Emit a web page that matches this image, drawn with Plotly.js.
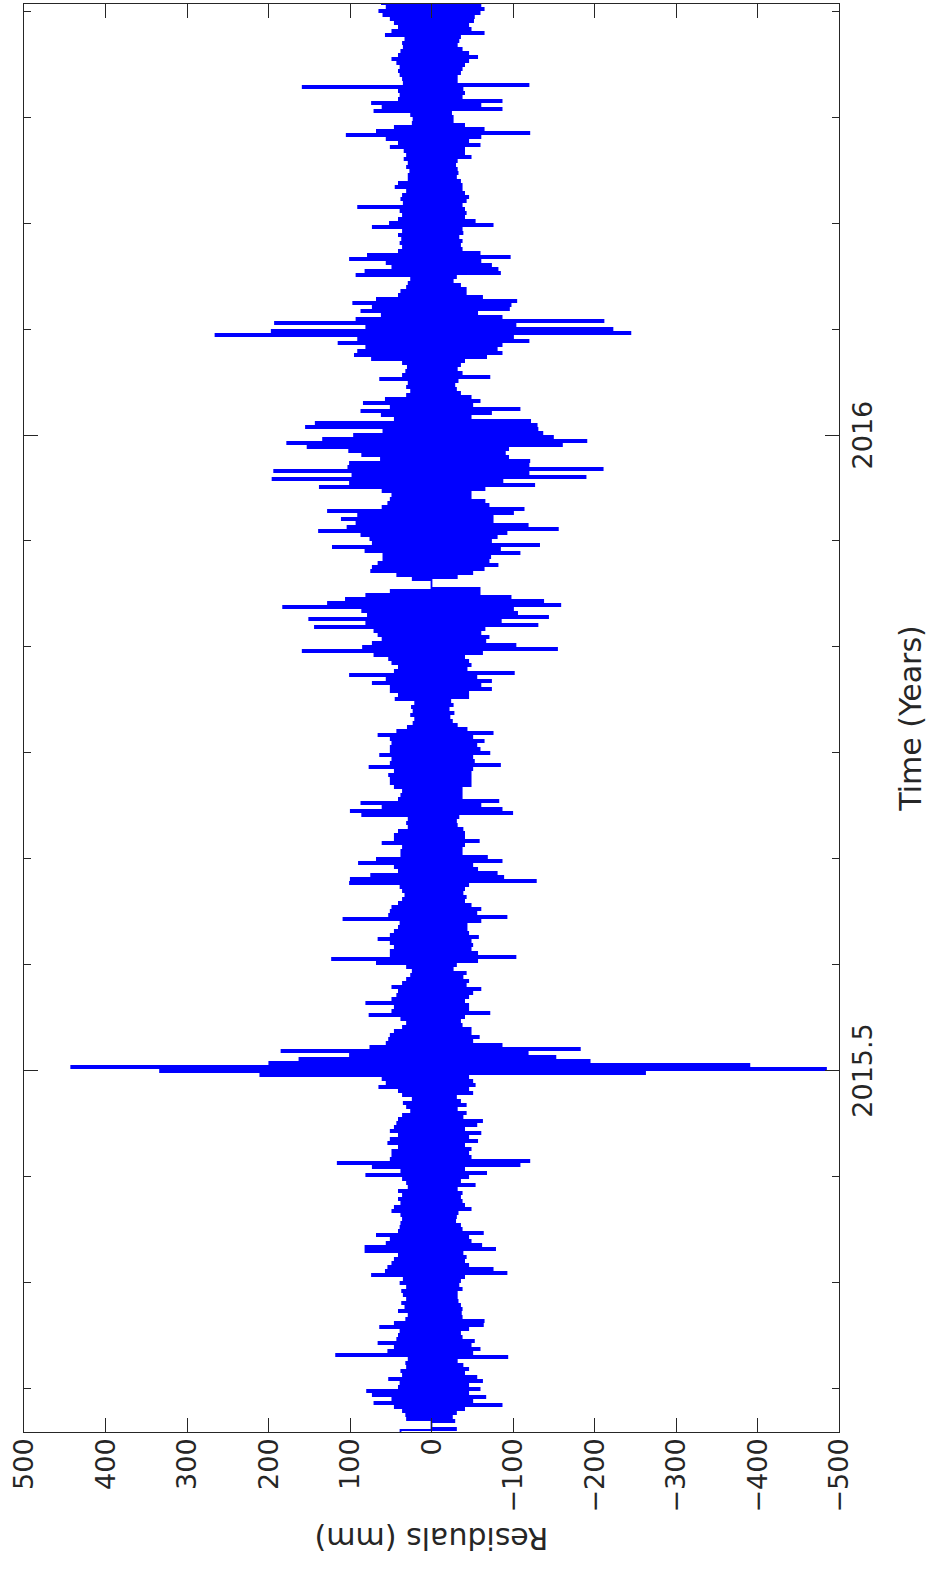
<!DOCTYPE html>
<html>
<head>
<meta charset="utf-8">
<script src="https://cdn.plot.ly/plotly-3.0.1.min.js"></script>
<style>
html,body{margin:0;padding:0;width:930px;height:1569px;overflow:hidden;background:#fff}
#wrap{position:absolute;left:0;top:0;width:1569px;height:930px;transform-origin:0 0;transform:translateY(1569px) rotate(-90deg);}
</style>
</head>
<body>
<div id="wrap"><div id="chart"></div></div>
<script>
// Residual samples (mm), in time order
const residuals = [
38,-30,0,0,0,-28,30,-25,31,-30,
35,-40,45,-86,70,-50,48,-66,72,-45,
79,-59,40,-45,38,-62,52,-55,35,-40,
37,-45,30,-38,31,-31,28,-93,117,-50,
53,-59,45,-48,65,-52,42,-37,40,-35,
38,-45,63,-63,45,-64,31,-37,28,-36,
40,-37,32,-35,36,-32,30,-31,34,-31,
36,-37,30,-33,38,-35,34,-40,73,-92,
56,-75,53,-45,48,-40,45,-42,40,-38,
81,-78,81,-61,55,-48,50,-45,67,-63,
40,-37,38,-35,37,-29,35,-30,37,-32,
48,-48,45,-40,37,-37,40,-35,35,-37,
40,-31,28,-53,30,-35,35,-45,80,-67,
37,-40,72,-108,115,-120,50,-48,48,-45,
48,-48,40,-40,53,-56,50,-45,40,-60,
50,-40,45,-55,42,-62,40,-38,35,-42,
25,-31,30,-42,34,-35,23,-30,35,-50,
40,-45,64,-53,55,-50,60,-45,210,-262,
333,-484,442,-390,199,-194,162,-152,100,-118,
184,-182,75,-86,55,-50,52,-58,50,-48,
45,-48,35,-37,30,-35,37,-40,76,-71,
48,-45,45,-45,80,-40,48,-45,42,-50,
40,-60,48,-42,35,-45,30,-38,25,-42,
23,-26,30,-30,67,-56,122,-103,50,-56,
50,-48,45,-50,50,-48,65,-57,50,-45,
45,-43,40,-43,38,-60,108,-92,52,-55,
50,-60,48,-48,40,-40,35,-42,32,-38,
35,-40,38,-45,100,-128,99,-88,74,-80,
40,-56,45,-50,89,-86,67,-68,37,-37,
37,-37,35,-40,60,-58,45,-40,45,-40,
40,-38,28,-31,30,-30,28,-33,85,-99,
99,-86,60,-60,86,-82,40,-37,37,-37,
35,-37,45,-48,50,-48,50,-48,52,-48,
45,-50,76,-84,50,-52,48,-50,63,-71,
50,-59,50,-55,48,-64,50,-50,65,-75,
42,-43,29,-31,22,-25,20,-22,25,-27,
22,-21,24,-26,20,-23,44,-45,40,-45,
50,-73,50,-60,72,-73,55,-55,100,-101,
45,-43,40,-48,48,-45,52,-40,70,-62,
158,-154,84,-103,72,-66,60,-70,65,-60,
70,-65,143,-130,80,-85,150,-143,78,-105,
85,-100,182,-158,127,-137,105,-97,80,-59,
50,-59,0,0,0,0,23,-31,42,-50,
74,-64,72,-81,65,-70,59,-72,59,-108,
81,-84,121,-132,72,-73,75,-80,86,-92,
138,-155,103,-118,92,-75,110,-75,90,-100,
127,-113,60,-70,53,-65,50,-48,48,-48,
60,-65,137,-126,100,-87,195,-189,97,-119,
193,-210,102,-119,100,-120,62,-94,85,-90,
101,-94,152,-160,177,-190,133,-149,95,-136,
59,-130,154,-129,142,-121,45,-48,61,-73,
86,-108,50,-50,83,-59,56,-48,30,-35,
25,-30,30,-28,28,-32,63,-71,35,-37,
31,-31,29,-35,35,-40,73,-67,94,-86,
90,-80,80,-86,114,-119,90,-100,265,-244,
196,-222,80,-103,192,-211,92,-86,61,-56,
86,-95,72,-97,96,-104,67,-62,40,-42,
37,-42,30,-35,28,-26,25,-30,92,-84,
81,-81,48,-73,55,-60,100,-96,78,-59,
40,-37,35,-35,38,-37,36,-33,40,-38,
35,-37,72,-75,51,-53,40,-40,35,-42,
38,-40,90,-37,34,-42,37,-45,35,-40,
30,-37,44,-37,40,-35,28,-30,28,-32,
26,-31,30,-29,28,-31,33,-48,30,-40,
33,-40,50,-59,40,-45,55,-60,104,-120,
67,-64,45,-40,23,-26,22,-26,25,-24,
70,-86,60,-60,73,-86,40,-37,38,-40,
40,-38,158,-119,34,-31,35,-31,38,-35,
40,-37,38,-40,42,-45,48,-56,40,-45,
37,-37,34,-31,35,-33,32,-35,56,-64,
48,-48,40,-45,45,-51,50,-52,59,-59,
64,-64,55,-60,62
];
// Time span of the record (decimal years)
const timeStart = 2015.2155;
const timeEnd = 2016.3392;

const majorTimeTicks = [2015.5, 2016];
const majorTimeLabels = ['2015.5', '2016'];
const minorTimeTicks = [2015.25, 2015.3333, 2015.4167, 2015.5833, 2015.6667, 2015.75,
  2015.8333, 2015.9167, 2016.0833, 2016.1667, 2016.25, 2016.3333];
const residualTicks = [-500, -400, -300, -200, -100, 0, 100, 200, 300, 400, 500];

const step = (timeEnd - timeStart) / (residuals.length - 1);
const times = residuals.map((_, i) => timeStart + i * step);

const axisColor = '#262626';
const trace = {
  x: times, y: residuals, type: 'scatter', mode: 'lines',
  line: {color: '#0000ff', width: 1.8, shape: 'hv'}, hoverinfo: 'skip'
};

const layout = {
  width: 1569, height: 930,
  margin: {l: 137, r: 4, t: 24, b: 91, pad: 0},
  paper_bgcolor: '#ffffff', plot_bgcolor: '#ffffff',
  showlegend: false,
  font: {family: 'DejaVu Sans', size: 27, color: axisColor},
  xaxis: {
    range: [timeStart, timeEnd],
    tickmode: 'array', tickvals: majorTimeTicks, ticktext: majorTimeLabels,
    ticks: 'inside', ticklen: 14, tickwidth: 1, tickcolor: axisColor,
    minor: {tickmode: 'array', tickvals: minorTimeTicks, ticks: 'inside', ticklen: 7, tickwidth: 1, tickcolor: axisColor, showgrid: false},
    showline: true, linecolor: axisColor, linewidth: 1, mirror: 'ticks',
    showgrid: false, zeroline: false, automargin: false,
    tickfont: {size: 27, color: axisColor},
    title: {text: 'Time (Years)', font: {size: 30, color: axisColor}, standoff: 22}
  },
  yaxis: {
    range: [-500, 500],
    tickmode: 'array', tickvals: residualTicks,
    ticks: 'inside', ticklen: 14, tickwidth: 1, tickcolor: axisColor,
    showline: true, linecolor: axisColor, linewidth: 1, mirror: 'ticks',
    showgrid: false, zeroline: false, automargin: false,
    tickfont: {size: 27, color: axisColor},
    title: {text: 'Residuals (mm)', font: {size: 30, color: axisColor}, standoff: 5}
  }
};

Plotly.newPlot('chart', [trace], layout, {staticPlot: true, displayModeBar: false});
</script>
</body>
</html>
